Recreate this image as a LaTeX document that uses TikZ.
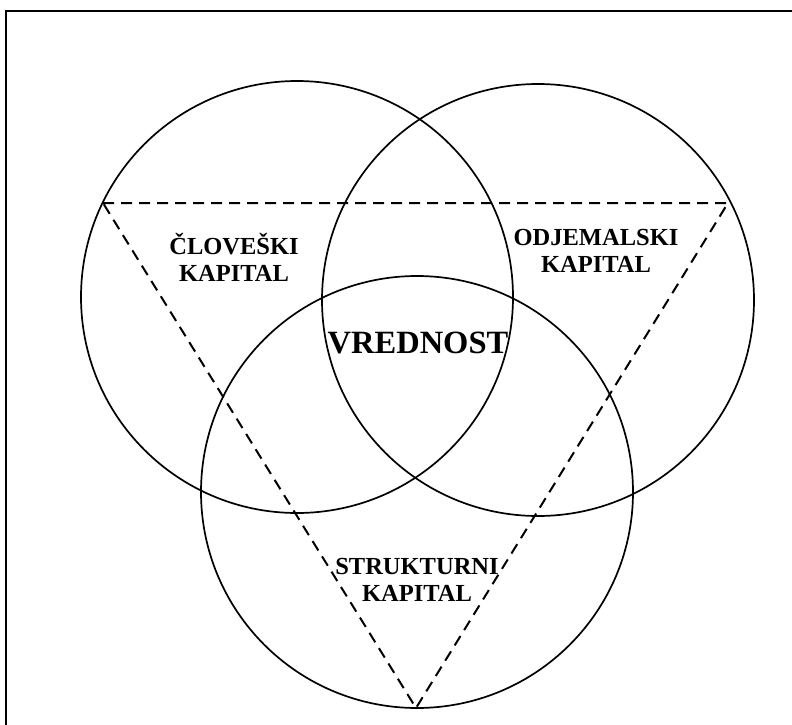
\documentclass[tikz,border=0pt]{standalone}
\usepackage{fontspec}
\setmainfont{Liberation Serif}
\usepackage{tikz}
\usetikzlibrary{positioning}
\definecolor{vn-line}{HTML}{000000}
\definecolor{vn-text}{HTML}{000000}

\tikzset{
    ring/.style={draw=vn-line, circle, line width=1.7pt, minimum size=432pt, inner sep=0pt},
    capital/.style={vn-text, align=center, font=\fontsize{24.5}{27}\selectfont\bfseries},
    triline/.style={vn-line, line width=2pt, dash pattern=on 11pt off 7pt},
}

\begin{document}
\begin{tikzpicture}[x=1pt, y=-1pt]
    \useasboundingbox (0,0) rectangle (792,725);
    % frame
    \coordinate (fbl) at (6,725);
    \coordinate (ftr) at (792,11);
    \draw[vn-line, line width=1.8pt] (fbl) |- (ftr);
    % three circles
    \node[ring] (human) at (297,297) {};
    \node[ring] (customer) at (538,300) {};
    \node[ring] (structural) at (417,492) {};
    % dashed triangle
    \coordinate (tl) at (103,203);
    \coordinate (tr) at (728,203);
    \coordinate (bt) at (416,708);
    \draw[triline] (tl) -- (tr) -- (bt) -- cycle;
    % labels
    \node[capital] (hlabel) at (234,257) {ČLOVEŠKI\\KAPITAL};
    \node[capital] (clabel) at (596,251) {ODJEMALSKI\\KAPITAL};
    \node[capital] (slabel) at (417,580) {STRUKTURNI\\KAPITAL};
    \node[vn-text, font=\fontsize{32.5}{34}\selectfont\bfseries] (value) at (418,343) {VREDNOST};
\end{tikzpicture}
\end{document}
